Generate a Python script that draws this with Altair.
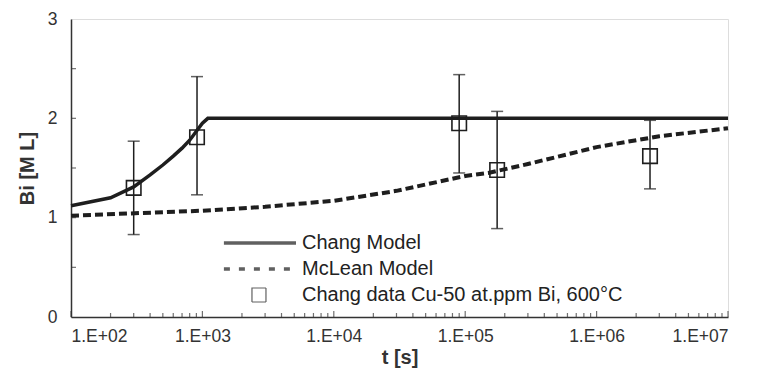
import altair as alt
import pandas as pd

# ---- data ----
chang_t = [100, 200, 300, 400, 500, 600, 700, 800, 900, 1000, 1100, 1e7]
chang_v = [1.12, 1.20, 1.31, 1.43, 1.53, 1.62, 1.70, 1.78, 1.87, 1.95, 2.00, 2.00]

mclean_t = [100, 1000, 3000, 10000, 30000, 100000, 150000, 300000, 1e6, 3e6, 1e7]
mclean_v = [1.02, 1.07, 1.11, 1.17, 1.27, 1.42, 1.45, 1.54, 1.71, 1.82, 1.90]

data_t = [300, 910, 90000, 175000, 2.55e6]
data_v = [1.30, 1.81, 1.95, 1.48, 1.62]
data_lo = [0.83, 1.23, 1.45, 0.89, 1.29]
data_hi = [1.77, 2.42, 2.44, 2.07, 1.98]

series = ["Chang Model", "McLean Model", "Chang data Cu-50 at.ppm Bi, 600°C"]

x_major = [1e2, 1e3, 1e4, 1e5, 1e6, 1e7]
x_minor = [m * d for d in [1e2, 1e3, 1e4, 1e5, 1e6] for m in [2, 3, 4, 5, 6, 7, 8, 9]]
y_labels = [0, 1, 2, 3]
y_ticks = [0.5, 1, 1.5, 2, 2.5]

FONT = "Liberation Sans"
INK = "#1e1e1e"

df_chang = pd.DataFrame({"t": chang_t, "v": chang_v})
df_mclean = pd.DataFrame({"t": mclean_t, "v": mclean_v})
df_data = pd.DataFrame({"t": data_t, "v": data_v, "lo": data_lo, "hi": data_hi})
df_leg = pd.DataFrame({"series": series})
df_xmaj = pd.DataFrame({"t": x_major})
df_xmin = pd.DataFrame({"t": x_minor})
df_yt = pd.DataFrame({"v": y_ticks})

xs = alt.Scale(type="log", domain=[1e2, 1e7])
ys = alt.Scale(domain=[0, 3])

xaxis = alt.Axis(
    values=x_major,
    labelExpr="'1.E+0' + round(log(datum.value) / LN10)",
    ticks=False, grid=False,
    domainColor="#333", domainWidth=1.5,
    labelFont=FONT, labelFontSize=17.5, labelColor="#333", labelPadding=10,
    title="t [s]", titleFont=FONT, titleFontSize=20, titleFontWeight="bold",
    titleColor="#333", titlePadding=3,
)
yaxis = alt.Axis(
    values=y_labels, format="d",
    ticks=False, grid=False,
    domainColor="#333", domainWidth=1.5,
    labelFont=FONT, labelFontSize=17.5, labelColor="#333", labelPadding=14,
    title="Bi [M L]", titleFont=FONT, titleFontSize=20, titleFontWeight="bold",
    titleColor="#333", titlePadding=10,
)

X = alt.X("t:Q", scale=xs, axis=xaxis)
Y = alt.Y("v:Q", scale=ys, axis=yaxis)

chang = alt.Chart(df_chang).mark_line(color=INK, strokeWidth=3.5).encode(x=X, y=Y)
mclean = alt.Chart(df_mclean).mark_line(color=INK, strokeWidth=4, strokeDash=[8, 4]).encode(x=X, y=Y)

err = alt.Chart(df_data).mark_rule(color=INK, strokeWidth=1.5).encode(
    x=alt.X("t:Q", scale=xs), y=alt.Y("lo:Q", scale=ys), y2="hi:Q")
cap_lo = alt.Chart(df_data).mark_tick(color=INK, orient="horizontal", size=12, thickness=1.5).encode(
    x=alt.X("t:Q", scale=xs), y=alt.Y("lo:Q", scale=ys))
cap_hi = alt.Chart(df_data).mark_tick(color=INK, orient="horizontal", size=12, thickness=1.5).encode(
    x=alt.X("t:Q", scale=xs), y=alt.Y("hi:Q", scale=ys))
squares = alt.Chart(df_data).mark_point(
    shape="square", filled=False, size=210, strokeWidth=1.6, color=INK, opacity=1
).encode(x=alt.X("t:Q", scale=xs), y=alt.Y("v:Q", scale=ys))

# inward ticks
xt_major = alt.Chart(df_xmaj).mark_tick(color="#333", orient="vertical", size=6, thickness=1.2, yOffset=-3).encode(
    x=alt.X("t:Q", scale=xs), y=alt.datum(0, scale=ys))
xt_minor = alt.Chart(df_xmin).mark_tick(color="#333", orient="vertical", size=4, thickness=1.2, yOffset=-2).encode(
    x=alt.X("t:Q", scale=xs), y=alt.datum(0, scale=ys))
yt = alt.Chart(df_yt).mark_tick(color="#333", orient="horizontal", size=5, thickness=1.2, xOffset=2.5).encode(
    y=alt.Y("v:Q", scale=ys), x=alt.datum(100, scale=xs))

# legend driver (no rows drawn, only the legend)
line_path = "M-9.3,0H1"
square_path = "M-5.29,-1H-3.29V1H-5.29Z"
leg = alt.Legend(
    orient="none", legendX=208, legendY=214, title=None, padding=0,
    labelFont=FONT, labelFontSize=20, labelColor="#222", labelOffset=3, labelLimit=1000,
    symbolSize=196, rowPadding=6, symbolFillColor="transparent",
    symbolStrokeColor=INK,
)
legend_layer = alt.Chart(df_leg).mark_point(filled=False, size=196, color=INK).encode(
    shape=alt.Shape("series:N", scale=alt.Scale(domain=series, range=[line_path, line_path, square_path]), legend=leg),
    strokeDash=alt.StrokeDash("series:N", scale=alt.Scale(domain=series, range=[[1, 0], [6, 9], [1, 0]]), legend=leg),
    strokeWidth=alt.StrokeWidth("series:N", scale=alt.Scale(type="ordinal", domain=series, range=[3.5, 3.5, 1.2]), legend=leg),
).transform_filter("false")

chart = alt.layer(
    chang, mclean, err, cap_lo, cap_hi, squares, xt_major, xt_minor, yt, legend_layer
).properties(
    width=657, height=298,
    autosize=alt.AutoSizeParams(type="none"),
    padding={"left": 63, "top": 11, "right": 26, "bottom": 51},
).configure_view(stroke="#a0a0a0", strokeWidth=1.3).configure(background="white")

chart.save("out.html", embed_options={"renderer": "svg", "actions": False})
